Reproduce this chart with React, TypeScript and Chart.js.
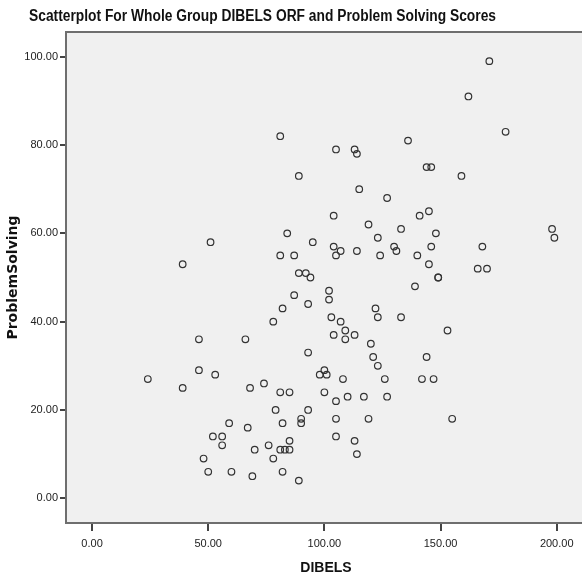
import React, { useEffect, useRef } from 'react';
import { Chart, registerables } from 'chart.js';

Chart.register(...registerables);

const chartTitle = 'Scatterplot For Whole Group DIBELS ORF and Problem Solving Scores';
const xTitle = 'DIBELS';
const yTitle = 'ProblemSolving';

const xTicks = [0, 50, 100, 150, 200];
const yTicks = [0, 20, 40, 60, 80, 100];

const dibels = [
  171, 162, 178, 136, 81, 105, 113, 114, 144, 146,
  89, 159, 115, 127, 145, 141, 104, 119, 133, 198,
  84, 148, 199, 123, 51, 95, 104, 130, 146, 168,
  107, 114, 131, 81, 87, 105, 124, 140, 39, 145,
  166, 170, 89, 92, 94, 149, 149, 102, 139, 87,
  102, 93, 82, 122, 123, 133, 103, 78, 107, 109,
  153, 104, 113, 46, 66, 109, 120, 93, 121, 144,
  123, 46, 100, 53, 98, 101, 24, 108, 126, 142,
  147, 74, 39, 68, 81, 85, 100, 110, 117, 127,
  105, 79, 93, 90, 105, 119, 155, 59, 82, 90,
  67, 52, 56, 105, 85, 113, 56, 76, 70, 81,
  83, 85, 114, 48, 78, 50, 60, 82, 69, 89,
];

const problemSolving = [
  99, 91, 83, 81, 82, 79, 79, 78, 75, 75,
  73, 73, 70, 68, 65, 64, 64, 62, 61, 61,
  60, 60, 59, 59, 58, 58, 57, 57, 57, 57,
  56, 56, 56, 55, 55, 55, 55, 55, 53, 53,
  52, 52, 51, 51, 50, 50, 50, 47, 48, 46,
  45, 44, 43, 43, 41, 41, 41, 40, 40, 38,
  38, 37, 37, 36, 36, 36, 35, 33, 32, 32,
  30, 29, 29, 28, 28, 28, 27, 27, 27, 27,
  27, 26, 25, 25, 24, 24, 24, 23, 23, 23,
  22, 20, 20, 18, 18, 18, 18, 17, 17, 17,
  16, 14, 14, 14, 13, 13, 12, 12, 11, 11,
  11, 11, 10, 9, 9, 6, 6, 6, 5, 4,
];

const tickFont = { family: '"Liberation Sans", Arial, sans-serif', size: 11 };

const framePlugin = {
  id: 'spssFrame',
  beforeDraw(chart: any) {
    const { ctx, chartArea, width, height } = chart;
    ctx.save();
    ctx.fillStyle = '#ffffff';
    ctx.fillRect(0, 0, width, height);
    ctx.fillStyle = '#f0f0f0';
    ctx.fillRect(chartArea.left, chartArea.top, chartArea.right - chartArea.left, chartArea.bottom - chartArea.top);
    ctx.restore();
  },
  beforeDatasetsDraw(chart: any) {
    const { ctx, chartArea } = chart;
    ctx.save();
    ctx.strokeStyle = '#6e6e6e';
    ctx.lineWidth = 2;
    ctx.strokeRect(chartArea.left, chartArea.top, chartArea.right - chartArea.left, chartArea.bottom - chartArea.top);
    ctx.restore();
  },
  afterDraw(chart: any) {
    const { ctx, chartArea } = chart;
    ctx.save();
    ctx.font = 'bold 16px "Liberation Sans", Arial, sans-serif';
    ctx.fillStyle = '#111111';
    ctx.textBaseline = 'alphabetic';
    ctx.textAlign = 'left';
    ctx.fillText(chartTitle, 29, 21, 467);
    // x-axis title, centred on the visible part of the plot frame
    const visibleRight = Math.min(chartArea.right, 586);
    ctx.font = 'bold 14px "Liberation Sans", Arial, sans-serif';
    ctx.textAlign = 'center';
    ctx.textBaseline = 'middle';
    ctx.fillText(xTitle, (chartArea.left + visibleRight) / 2, 568.6);
    ctx.restore();
  },
};

export default function App() {
  const ref = useRef<HTMLCanvasElement>(null);

  useEffect(() => {
    if (!ref.current) return;
    const chart = new Chart(ref.current, {
      type: 'scatter',
      data: {
        datasets: [
          {
            data: dibels.map((x, i) => ({ x, y: problemSolving[i] })),
            pointRadius: 3.3,
            pointHoverRadius: 3.3,
            pointBorderWidth: 1.2,
            pointBorderColor: '#333333',
            pointBackgroundColor: 'rgba(0,0,0,0)',
            showLine: false,
          },
        ],
      },
      options: {
        responsive: false,
        animation: false,
        devicePixelRatio: 1,
        layout: { padding: { top: 32, left: 0, right: 0, bottom: 0 } },
        plugins: { legend: { display: false }, tooltip: { enabled: false }, title: { display: false } },
        scales: {
          x: {
            type: 'linear',
            min: -11.22,
            max: 216.7,
            afterBuildTicks: (s: any) => {
              s.ticks = xTicks.map((v) => ({ value: v }));
            },
            afterFit: (s: any) => {
              s.height = 56;
              s.paddingLeft = 0;
              s.paddingRight = 0;
            },
            grid: { drawOnChartArea: false, drawTicks: true, tickLength: 8, color: '#444444', lineWidth: 2 },
            border: { display: false },
            ticks: {
              padding: 6,
              font: tickFont,
              color: '#222222',
              maxRotation: 0,
              autoSkip: false,
              callback: (v: any) => Number(v).toFixed(2),
            },
            title: { display: false },
          },
          y: {
            type: 'linear',
            min: -5.6,
            max: 105.6,
            afterBuildTicks: (s: any) => {
              s.ticks = yTicks.map((v) => ({ value: v }));
            },
            afterFit: (s: any) => {
              s.width = 66;
              s.paddingTop = 0;
              s.paddingBottom = 0;
            },
            grid: { drawOnChartArea: false, drawTicks: true, tickLength: 6, color: '#444444', lineWidth: 2 },
            border: { display: false },
            ticks: {
              padding: 2,
              font: tickFont,
              color: '#222222',
              autoSkip: false,
              callback: (v: any) => Number(v).toFixed(2),
            },
            title: {
              display: true,
              text: yTitle,
              color: '#111111',
              font: { family: '"DejaVu Sans", sans-serif', size: 14, weight: 'bold' },
              padding: { top: 5, bottom: 0 },
            },
          },
        },
      },
      plugins: [framePlugin],
    });
    return () => chart.destroy();
  }, []);

  return (
    <div style={{ position: 'fixed', left: 0, top: 0, width: 582, height: 579, background: '#ffffff', overflow: 'hidden' }}>
      <canvas ref={ref} width={600} height={579} style={{ display: 'block', width: 600, height: 579 }} />
    </div>
  );
}
